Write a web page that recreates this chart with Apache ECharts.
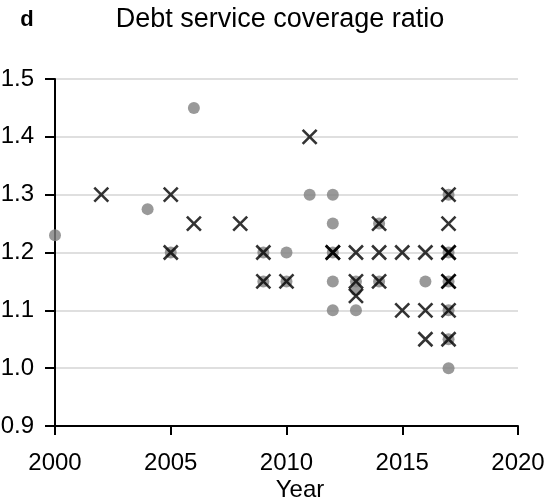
<!DOCTYPE html>
<html>
<head>
<meta charset="utf-8">
<script src="https://cdn.jsdelivr.net/npm/echarts@6/dist/echarts.min.js"></script>
<style>
  html, body { margin: 0; padding: 0; background: #fff; }
  #chart { width: 551px; height: 502px; }
</style>
</head>
<body>
<div id="chart"></div>
<script>
// Grey dots: year and ratio of each observation
const dotYear = [2000, 2004, 2005, 2006, 2009, 2009, 2010, 2010, 2011,
  2012, 2012, 2012, 2012, 2012, 2013, 2013, 2013, 2014, 2014, 2016,
  2017, 2017, 2017, 2017, 2017, 2017];
const dotRatio = [1.23, 1.275, 1.2, 1.45, 1.2, 1.15, 1.2, 1.15, 1.3,
  1.3, 1.25, 1.2, 1.15, 1.1, 1.15, 1.135, 1.1, 1.25, 1.15, 1.15,
  1.3, 1.2, 1.15, 1.1, 1.05, 1.0];

// Black crosses: year and ratio of each observation
const crossYear = [2002, 2005, 2005, 2006, 2008, 2009, 2009, 2010, 2011,
  2012, 2012, 2013, 2013, 2013, 2014, 2014, 2014, 2015, 2015, 2016, 2016, 2016,
  2017, 2017, 2017, 2017, 2017, 2017, 2017, 2017];
const crossRatio = [1.3, 1.3, 1.2, 1.25, 1.25, 1.2, 1.15, 1.15, 1.4,
  1.2, 1.2, 1.2, 1.15, 1.125, 1.25, 1.2, 1.15, 1.2, 1.1, 1.2, 1.1, 1.05,
  1.3, 1.25, 1.2, 1.2, 1.15, 1.15, 1.1, 1.05];

// Axis ticks
const yearTicks = { min: 2000, max: 2020, step: 5 };
const ratioTicks = { min: 0.9, max: 1.5, step: 0.1 };

const FONT = "'Liberation Sans', Arial, sans-serif";

const pairs = (xs, ys) => xs.map((x, i) => [x, ys[i]]);

const chart = echarts.init(document.getElementById('chart'), null, { renderer: 'canvas' });

chart.setOption({
  animation: false,
  backgroundColor: '#ffffff',
  grid: { left: 55, right: 33, top: 79, bottom: 76, outerBoundsMode: 'none', containLabel: false },
  graphic: [
    {
      type: 'text', x: 27, y: 20,
      style: { text: 'd', font: "bold 22px " + FONT, fill: '#000',
        textAlign: 'center', textVerticalAlign: 'middle' }
    },
    {
      type: 'text', x: 280, y: 20,
      style: { text: 'Debt service coverage ratio', font: "27px " + FONT, fill: '#000',
        textAlign: 'center', textVerticalAlign: 'middle' }
    },
    {
      type: 'text', x: 300, y: 490,
      style: { text: 'Year', font: "24px " + FONT, fill: '#000',
        textAlign: 'center', textVerticalAlign: 'middle' }
    }
  ],
  xAxis: {
    type: 'value',
    min: yearTicks.min, max: yearTicks.max, interval: yearTicks.step,
    axisLine: { lineStyle: { color: '#000', width: 2 } },
    axisTick: { show: true, length: 9, lineStyle: { color: '#000', width: 2 } },
    axisLabel: { color: '#000', fontSize: 24, fontFamily: FONT, margin: 25,
      formatter: v => String(v) },
    splitLine: { show: false }
  },
  yAxis: {
    type: 'value',
    min: ratioTicks.min, max: ratioTicks.max, interval: ratioTicks.step,
    axisLine: { show: true, lineStyle: { color: '#000', width: 2 } },
    axisTick: { show: true, length: 10, lineStyle: { color: '#000', width: 2 } },
    axisLabel: { color: '#000', fontSize: 24, fontFamily: FONT, margin: 21,
      formatter: v => v.toFixed(1) },
    splitLine: { show: true, lineStyle: { color: '#d4d4d4', width: 1.5 } }
  },
  series: [
    {
      type: 'scatter',
      data: pairs(dotYear, dotRatio),
      symbol: 'circle',
      symbolSize: 12,
      itemStyle: { color: '#808080' },
      emphasis: { disabled: true },
      z: 2
    },
    {
      type: 'scatter',
      data: pairs(crossYear, crossRatio),
      symbol: 'path://M0,0L10,10M10,0L0,10',
      symbolSize: 14,
      itemStyle: { color: 'none', borderColor: '#000', borderWidth: 2.6 },
      emphasis: { disabled: true },
      z: 3
    }
  ]
});
</script>
</body>
</html>
